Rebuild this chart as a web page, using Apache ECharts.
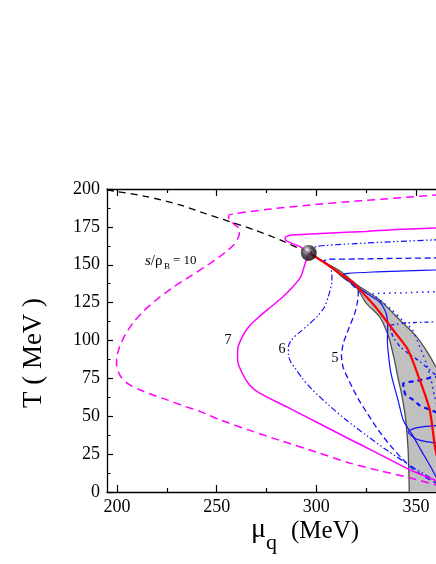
<!DOCTYPE html>
<html>
<head>
<meta charset="utf-8">
<style>
  html, body { margin: 0; padding: 0; background: #fff; }
  #main { width: 436px; height: 564px; }
</style>
<script src="https://cdn.jsdelivr.net/npm/echarts@6.0.0/dist/echarts.min.js"></script>
</head>
<body>
<div id="main"></div>
<script>
// ---- data (mu_q, T) in MeV ----
var xMajor = [200, 250, 300, 350];
var xMinor = [225, 275, 325];

var cep = [[296.2, 157.8]];

// crossover line
var crossover = [[195, 199.5], [200, 198.3], [215, 195], [231.5, 189.5], [245, 183.5], [256.6, 178.5],
    [270, 172.5], [281.8, 166.4], [296.2, 157.8]];

// first order line and the mixed phase band
var firstOrder = [[296.2, 157.8], [305, 150.5], [312, 144], [318.6, 137.9], [325, 129], [331, 120],
    [338.4, 107.1], [345.9, 93.9], [351.8, 74.1], [356.8, 54.4], [359.3, 31.3], [360.3, 24]];
var bandLower = [[296.2, 157.8], [301, 154.3], [306.9, 148.8], [313, 142], [320.3, 134.6], [325, 124.7],
    [331.7, 115.8], [335, 107], [336.8, 100], [339, 88], [341, 75], [343, 63], [344.8, 47.8], [346, 28], [346.6, 0]];
var bandUpper = [[296.2, 157.8], [299.8, 155.2], [305, 151], [311.7, 146], [321.6, 135.6], [331.6, 126.9],
    [341.7, 113.7], [350.1, 102.7], [356, 91.7], [360, 82.3]];

// isentropes s/rho_B
var sRho10 = [[362, 196.3], [340, 194], [320, 192], [297, 189.5], [275, 186.5], [258.3, 183.6], [256, 182.5],
    [256.3, 180], [259, 176.5], [261.5, 173.5], [261, 168.5], [258.5, 163], [255, 159], [251.6, 155.4],
    [244, 148.5], [236.5, 142.2], [228, 135], [219.8, 126.9], [213, 119], [208, 111.5], [204, 103.5],
    [201.4, 96], [199.9, 89], [199.8, 84], [200.6, 79.5], [202.5, 75], [206, 71], [211.4, 67.5], [218, 64],
    [224.8, 61], [233, 57], [241.6, 53.2], [252, 47.5], [267, 40.5], [283, 33.5], [300, 26.3], [316.6, 19.2],
    [332, 14], [346.7, 9.4], [362, 4]];
var sRho7 = [[362, 174.3], [340, 173.2], [325, 172], [305, 170.8], [290, 169.8], [286.5, 169.3], [284.3, 167.8],
    [284.8, 166], [287.5, 164.3], [291.8, 162], [294.5, 159.5], [296, 157], [294.6, 151.8], [292.1, 141.9],
    [288.1, 135.3], [283.1, 128.7], [277.1, 122.1], [271.1, 115.5], [266, 108.9], [262.5, 101.6], [260.5, 93.7],
    [260.5, 87.1], [262.5, 79.2], [266.5, 70.6], [271.5, 65.3], [285, 56.3], [300, 46.2], [315, 36], [330, 26],
    [346.7, 14.8], [362, 6.5]];
var sRho6 = [[362, 166.6], [340, 165.3], [320, 164], [305, 162.8], [300, 162], [297.5, 160.5], [297.5, 157.5],
    [300, 155], [303.5, 152], [306.9, 148.8], [307.8, 143], [307.7, 138], [306, 129], [304, 122], [300.5, 116],
    [296, 110.4], [291.2, 105], [287.6, 100.5], [286, 96], [286, 90.5], [287.3, 85.5], [289.3, 81.8], [293, 75],
    [298, 67.5], [306.9, 56.5], [315, 47.5], [325, 37.5], [336, 27], [347, 17.5], [357, 9.5], [362, 5.5]];
var sRho5 = [[362, 154.5], [340, 154.2], [320, 153.8], [306, 153.6], [303.8, 152.5], [306, 150], [310, 146.2],
    [315, 140.5], [319, 135.5], [321, 132.5], [320.8, 127], [319.3, 118.1], [316, 107.1], [313.5, 98],
    [312.6, 90], [313.5, 82], [316.9, 72], [321, 61.5], [325.5, 52], [331, 41], [336.9, 31], [343, 22],
    [348.7, 15], [355, 9.5], [362, 4.5]];
var sRho4 = [[362, 146.6], [345, 146], [330, 145.3], [316, 144.3], [313.6, 143.3], [317, 139], [320.3, 135.6],
    [326, 130.5], [331.5, 125.7], [334, 121], [335.4, 115.8], [335.8, 108], [335.6, 100], [336.2, 90],
    [337.2, 80], [338.6, 72], [340.9, 61], [343.4, 48], [345.5, 43], [348, 38], [351, 31], [354.5, 23],
    [358, 15], [362, 5]];
var sRho3 = [[362, 132.4], [345, 131.5], [328.3, 130.5], [333, 125.5], [338, 120], [343, 113.5], [348.2, 107],
    [351.8, 96], [355.1, 85], [357.5, 74], [359.3, 63], [362, 50]];
var sRho2 = [[362, 112.4], [345, 111.6], [340, 110.8], [337, 109.5], [338.4, 102.7], [342, 96], [345.9, 91.7],
    [351.8, 86.2], [355.5, 82], [358.6, 78.6], [362, 75]];
var sRho15 = [[362, 76.5], [357, 75.3], [350, 73.3], [343.5, 71.5], [344, 67.5], [344.8, 64], [348.4, 61],
    [352, 57], [356.8, 54.4], [362, 51.5]];
var sRho1 = [[362, 44], [355, 43.3], [350, 42.3], [347.5, 41.2], [346, 40], [347.5, 37.5], [350.1, 35],
    [355, 33.3], [362, 32.2]];

var myChart = echarts.init(document.getElementById('main'));

var serif = 'Liberation Serif';
var magenta = '#ff00ff';
var blue = '#1010ff';

function curve(data, color, width, type, z) {
    return {
        type: 'line',
        data: data,
        symbol: 'none',
        smooth: 0.25,
        clip: true,
        z: z || 3,
        lineStyle: { color: color, width: width, type: type }
    };
}

function xAxisPart(pos, values, len, showLine, showLabel) {
    return {
        type: 'value',
        position: pos,
        min: 195,
        max: 360,
        splitLine: { show: false },
        axisLine: { show: showLine, onZero: false, lineStyle: { color: '#000', width: 1.3 } },
        axisTick: { inside: true, length: len, customValues: values, lineStyle: { color: '#000', width: 1.2 } },
        axisLabel: {
            show: showLabel, customValues: values, margin: 6,
            fontFamily: serif, fontSize: 18, color: '#000'
        }
    };
}

function txt(x, y, s, size, extra) {
    var t = { type: 'text', x: x, y: y, z: 10,
        style: { text: s, font: size + 'px "Liberation Serif"', fill: '#000', textVerticalAlign: 'middle' } };
    if (extra) {
        for (var k in extra) t.style[k] = extra[k];
    }
    return t;
}

// polygon of the mixed phase region
var bandPoly = bandLower.concat([[360, 0], [360, 82.3]]).concat(bandUpper.slice().reverse());

var option = {
    animation: false,
    backgroundColor: '#fff',
    grid: { left: 107, right: 0, top: 189, bottom: 72 },
    xAxis: [
        xAxisPart('bottom', xMajor, 7, true, true),
        xAxisPart('bottom', xMinor, 4, false, false),
        xAxisPart('top', xMajor, 7, true, false),
        xAxisPart('top', xMinor, 4, false, false)
    ],
    yAxis: {
        type: 'value',
        min: 0,
        max: 200,
        interval: 25,
        splitLine: { show: false },
        axisLine: { show: true, lineStyle: { color: '#000', width: 1.3 } },
        axisTick: { inside: true, length: 6, lineStyle: { color: '#000', width: 1.2 } },
        minorTick: { show: true, splitNumber: 2, length: 3.5, lineStyle: { color: '#000', width: 1 } },
        axisLabel: { margin: 7, fontFamily: serif, fontSize: 18, color: '#000' }
    },
    graphic: [
        {
            type: 'text', x: 34, y: 353, rotation: Math.PI / 2,
            style: { text: 'T ( MeV )', font: '27px "Liberation Serif"', fill: '#000', textAlign: 'center', textVerticalAlign: 'middle' }
        },
        txt(251, 530, 'μ', 28),
        txt(266, 543, 'q', 22),
        txt(291, 531, '(MeV)', 25),
        {
            type: 'text', x: 145, y: 261, z: 10,
            style: {
                text: '{i|s}/ρ', font: '15px "Liberation Serif"', fill: '#000', textVerticalAlign: 'middle',
                rich: { i: { fontStyle: 'italic', fontFamily: serif, fontSize: 15 } }
            }
        },
        txt(164, 267, 'B', 9),
        txt(173, 261, '= 10', 13),
        txt(228, 340, '7', 14, { textAlign: 'center' }),
        txt(282, 349, '6', 14, { textAlign: 'center' }),
        txt(335, 358, '5', 14, { textAlign: 'center' })
    ],
    series: [
        {
            type: 'custom',
            clip: true,
            z: 1,
            data: [[0, 0]],
            renderItem: function (params, api) {
                var pts = bandPoly.map(function (p) { return api.coord(p); });
                return { type: 'polygon', shape: { points: pts }, style: { fill: '#c0c0c0' } };
            }
        },
        curve(bandLower, '#505050', 1.3, 'solid', 2),
        curve(bandUpper, '#505050', 1.3, 'solid', 2),
        curve(sRho1, blue, 1.2, 'solid'),
        curve(sRho15, blue, 2.2, [5, 4]),
        curve(sRho2, blue, 1.3, [4, 3, 1.5, 3]),
        curve(sRho3, blue, 1.5, [1.5, 4]),
        curve(sRho4, blue, 1.2, 'solid'),
        curve(sRho5, blue, 1.3, [6, 3.5]),
        curve(sRho6, blue, 1.2, [6, 2.5, 1.5, 2.5, 1.5, 2.5]),
        curve(firstOrder, '#ff0000', 2.2, 'solid', 4),
        curve(sRho7, magenta, 1.5, 'solid', 5),
        curve(sRho10, magenta, 1.5, [8, 5], 5),
        curve(crossover, '#000', 1.3, [7, 5], 5),
        {
            type: 'scatter',
            data: cep,
            symbol: 'circle',
            symbolSize: 16,
            z: 10,
            itemStyle: {
                color: new echarts.graphic.RadialGradient(0.38, 0.32, 0.7, [
                    { offset: 0, color: '#ffffff' },
                    { offset: 0.15, color: '#b0b0b0' },
                    { offset: 0.45, color: '#303030' },
                    { offset: 1, color: '#000000' }
                ])
            }
        }
    ]
};

myChart.setOption(option);
</script>
</body>
</html>
